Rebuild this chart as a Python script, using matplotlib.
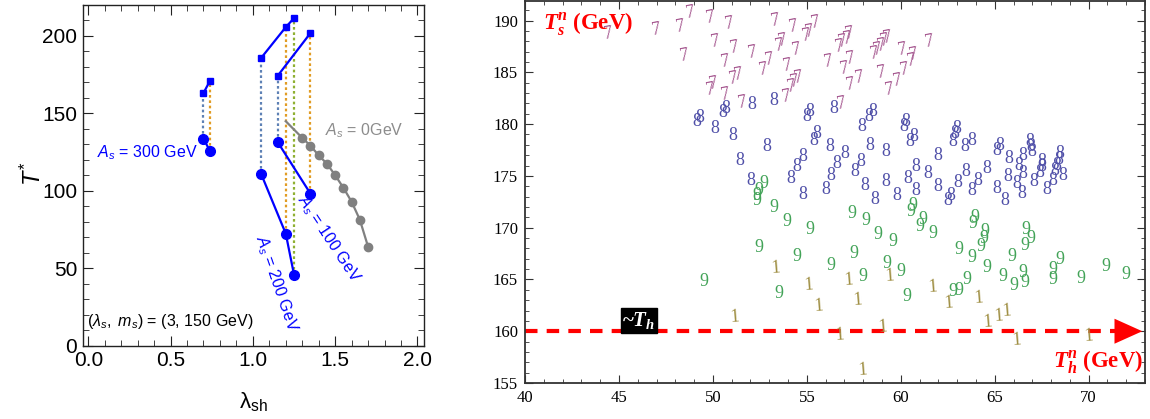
import matplotlib
matplotlib.use("Agg")
import matplotlib.pyplot as plt
from matplotlib.ticker import MultipleLocator

# ─────────────────────────────────────────────
# Data: left panel (T* vs lambda_sh)
# ─────────────────────────────────────────────

as300_x		= [0.70, 0.74]
as300_top	= [163.0, 171.0]
as300_bot	= [133.5, 125.5]

as200_x		= [1.05, 1.20, 1.25]
as200_top	= [185.6, 205.5, 211.3]
as200_bot	= [110.9, 72.3, 45.9]

as100_x		= [1.15, 1.35]
as100_top	= [174.0, 201.7]
as100_bot	= [131.5, 98.1]

as0_x		= [1.20, 1.30, 1.35, 1.40, 1.45, 1.50, 1.55, 1.60, 1.65, 1.70]
as0_y		= [144.8, 134.1, 129.0, 122.8, 117.4, 110.0, 101.9, 92.9, 81.3, 63.9]

# ─────────────────────────────────────────────
# Data: right panel (T_s^n vs T_h^n), digit markers
# ─────────────────────────────────────────────

seven_x = [44.43, 47.00, 48.28, 48.81, 49.88, 50.87, 48.51, 50.14, 51.17, 52.11, 50.68, 51.10,
	   51.35, 52.71, 49.88, 50.05, 50.69, 51.58, 53.33, 54.27, 55.48, 55.12, 54.98, 53.71,
	   53.56, 54.45, 53.00, 53.97, 54.57, 54.32, 54.18, 53.92, 56.13, 56.88, 56.76, 57.25,
	   57.15, 57.32, 57.02, 57.32, 57.82, 56.85, 58.62, 58.74, 58.97, 59.15, 59.29, 58.97,
	   60.09, 60.57, 60.66, 60.21, 59.80, 59.38, 61.54]
seven_y = [188.74, 189.12, 189.44, 190.72, 190.28, 189.70, 186.64, 187.93, 187.35, 186.90, 186.00, 184.40,
	   184.80, 185.27, 183.30, 183.90, 182.80, 182.10, 189.95, 189.44, 189.76, 188.90, 188.57, 188.09,
	   187.60, 187.13, 186.23, 185.60, 184.46, 184.07, 183.59, 182.62, 186.00, 187.93, 187.45, 188.74,
	   188.26, 186.30, 185.36, 183.75, 184.50, 182.00, 186.80, 187.19, 187.61, 188.02, 188.35, 184.94,
	   187.13, 186.16, 186.74, 185.20, 184.23, 183.27, 187.93]

eight_x = [49.13, 49.30, 50.11, 50.52, 50.69, 51.05, 52.06, 52.85, 51.44, 52.00, 53.24, 54.98,
	   55.16, 56.44, 55.37, 55.52, 56.22, 54.80, 57.02, 54.45, 54.13, 54.77, 56.61, 56.30,
	   56.03, 57.86, 57.55, 57.91, 58.35, 58.31, 58.53, 58.09, 58.62, 59.20, 59.20, 59.77,
	   60.16, 60.27, 60.48, 60.69, 60.39, 60.80, 60.80, 61.45, 61.98, 61.98, 62.78, 62.87,
	   62.96, 62.52, 62.64, 63.05, 63.40, 63.76, 63.46, 63.76, 64.11, 64.56, 65.09, 65.27,
	   65.12, 65.53, 65.76, 65.71, 66.15, 66.42, 66.29, 66.47, 66.50, 66.86, 66.90, 66.95,
	   67.07, 67.48, 67.53, 67.39, 67.78, 68.10, 68.19, 68.28, 68.42, 68.46, 68.60]
eight_y = [180.21, 180.64, 179.58, 181.08, 181.50, 178.93, 181.92, 177.80, 176.50, 174.56, 182.30, 180.69,
	   181.18, 181.50, 178.45, 179.09, 177.87, 176.90, 177.16, 175.87, 174.75, 173.24, 176.20, 175.07,
	   173.69, 176.35, 175.39, 179.80, 177.96, 180.69, 181.18, 174.10, 172.73, 177.32, 174.43, 173.14,
	   179.80, 180.21, 178.28, 178.83, 174.75, 175.87, 173.63, 175.24, 177.00, 173.94, 178.28, 179.09,
	   179.58, 172.66, 173.14, 174.33, 177.80, 178.45, 175.39, 173.56, 174.59, 175.72, 177.48, 177.96,
	   173.79, 172.66, 176.68, 174.91, 174.27, 173.31, 176.04, 177.00, 175.24, 178.28, 177.80, 177.32,
	   174.43, 176.35, 175.87, 175.29, 173.69, 174.59, 175.55, 176.04, 176.59, 177.16, 175.07]

nine_x = [52.71, 52.46, 52.35, 52.32, 52.46, 49.52, 53.24, 53.95, 55.16, 54.45, 53.53, 56.28,
	  57.38, 58.16, 57.52, 58.00, 58.79, 59.56, 59.24, 59.98, 60.34, 60.52, 60.62, 61.01,
	  61.18, 61.72, 62.78, 63.10, 63.09, 63.94, 63.85, 64.47, 64.41, 64.24, 63.81, 64.56,
	  63.53, 65.89, 66.68, 66.90, 66.63, 65.41, 66.01, 66.50, 66.63, 68.46, 68.10, 68.10,
	  69.61, 70.94, 72.00]
nine_y = [174.27, 173.63, 173.15, 172.60, 168.10, 164.78, 171.96, 170.57, 169.87, 167.19, 163.66, 166.30,
	  171.38, 170.73, 167.52, 165.33, 169.35, 168.64, 166.56, 165.75, 163.34, 171.53, 172.18, 170.15,
	  170.80, 169.45, 163.82, 163.98, 167.90, 171.00, 170.41, 169.60, 168.97, 168.16, 167.10, 166.17,
	  165.01, 167.26, 169.84, 168.97, 168.32, 165.27, 164.37, 165.65, 164.69, 166.94, 165.98, 165.01,
	  165.11, 166.23, 165.43]

one_x = [51.17, 53.35, 55.12, 55.65, 56.76, 57.25, 57.70, 57.98, 59.04, 59.41, 61.72, 62.57,
	 64.17, 64.64, 65.23, 65.66, 66.15, 70.02]
one_y = [161.35, 166.08, 164.46, 162.44, 159.64, 164.95, 163.02, 156.20, 160.39, 165.33, 164.24, 162.70,
	 163.18, 160.83, 161.48, 161.89, 159.16, 159.48]

TH_LINE = 160.0

# ─────────────────────────────────────────────
# Styles
# ─────────────────────────────────────────────

DOT_COLORS	= ["#5E81B5", "#E19C24", "#8FB032"]
SANS		= "Liberation Sans"
SERIF		= "Liberation Serif"

plt.rcParams["mathtext.fontset"]	= "custom"
plt.rcParams["mathtext.rm"]		= SANS
plt.rcParams["mathtext.it"]		= SANS + ":italic"
plt.rcParams["mathtext.bf"]		= SERIF + ":bold:italic"


def draw_group(ax, xs, top, bot):
	for i, x in enumerate(xs):
		ax.plot([x, x], [bot[i], top[i]], linestyle=(0, (1.2, 1.2)), linewidth=1.6,
			color=DOT_COLORS[i % 3], zorder=1)
	ax.plot(xs, top, color="#0000FF", linewidth=1.6, marker="s", markersize=4.5, zorder=3)
	ax.plot(xs, bot, color="#0000FF", linewidth=1.6, marker="o", markersize=7, zorder=3)


fig = plt.figure(figsize=(11.5, 4.19), dpi=100)

# ── left panel ───────────────────────────────
ax = fig.add_axes([0.0719, 0.175, 0.2968, 0.8138])
draw_group(ax, as300_x, as300_top, as300_bot)
draw_group(ax, as200_x, as200_top, as200_bot)
draw_group(ax, as100_x, as100_top, as100_bot)
ax.plot(as0_x, as0_y, color="#808080", linewidth=1.6, marker="o", markersize=6,
	markevery=list(range(1, len(as0_x))), zorder=2)

ax.set_xlim(-0.034, 2.04)
ax.set_ylim(0, 220)
ax.xaxis.set_major_locator(MultipleLocator(0.5))
ax.xaxis.set_minor_locator(MultipleLocator(0.1))
ax.yaxis.set_major_locator(MultipleLocator(50))
ax.yaxis.set_minor_locator(MultipleLocator(10))
ax.xaxis.set_major_formatter(lambda v, p: f"{v:.1f}")
ax.tick_params(which="both", direction="in", top=True, right=True, color="#222222")
ax.tick_params(which="major", length=7, labelsize=15, pad=4)
ax.tick_params(which="minor", length=4)
for lbl in ax.get_xticklabels() + ax.get_yticklabels():
	lbl.set_fontfamily(SANS)
for sp in ax.spines.values():
	sp.set_color("#222222")
	sp.set_linewidth(1.0)

ax.text(0.665, 124.5, r"$A_s$ = 300 GeV", color="#0000FF", fontsize=11.5, family=SANS,
	ha="right", va="center")
ax.text(1.44, 138.5, r"$A_s$ = 0GeV", color="#8C8C8C", fontsize=11.5, family=SANS,
	ha="left", va="center")
ax.text(1.463, 68.7, r"$A_s$ = 100 GeV", color="#0000FF", fontsize=11.5, family=SANS,
	ha="center", va="center", rotation=-56.5)
ax.text(1.141, 40.0, r"$A_s$ = 200 GeV", color="#0000FF", fontsize=11.5, family=SANS,
	ha="center", va="center", rotation=-71)
ax.text(-0.005, 15.5, r"$(\lambda_s,\ m_s)$ = (3, 150 GeV)", color="black", fontsize=11.5,
	family=SANS, ha="left", va="center")

fig.text(0.029, 0.585, r"$T^{*}$", fontsize=17, rotation=90, ha="center", va="center")
fig.text(0.220, 0.040, r"$\mathrm{\lambda_{sh}}$", fontsize=16, ha="center", va="center")

# ── right panel ──────────────────────────────
ax2 = fig.add_axes([0.4565, 0.0859, 0.5392, 0.912])

for xs, ys, digit, color, rot in [
	(seven_x, seven_y, "7", "#A3538D", 10),
	(eight_x, eight_y, "8", "#4F4FA8", 0),
	(nine_x,  nine_y,  "9", "#43A358", 0),
	(one_x,   one_y,   "1", "#A09045", 4),
]:
	for x, y in zip(xs, ys):
		ax2.text(x, y, digit, color=color, fontsize=13, family=SERIF,
			 ha="center", va="center", rotation=rot, zorder=3)

ax2.plot([40, 72.2], [TH_LINE, TH_LINE], color="red", linewidth=3, linestyle=(0, (3, 2.2)),
	 zorder=2)
ax2.annotate("", xy=(73.0, TH_LINE), xytext=(72.0, TH_LINE),
	     arrowprops=dict(arrowstyle="-|>,head_length=1.0,head_width=0.45", color="red",
			     lw=0, mutation_scale=20), annotation_clip=False, zorder=2)

ax2.text(46.07, 161.05, r"~$\mathbf{T_h}$", color="white", fontsize=15, family=SERIF,
	 fontweight="bold", ha="center", va="center", zorder=4,
	 bbox=dict(boxstyle="square,pad=0.08", facecolor="black", edgecolor="black"))
ax2.text(40.95, 189.7, r"$\mathbf{T}_\mathbf{s}^\mathbf{n}$ (GeV)", color="red", fontsize=16.5,
	 family=SERIF, fontweight="bold", ha="left", va="center")
ax2.text(72.9, 157.0, r"$\mathbf{T}_\mathbf{h}^\mathbf{n}$ (GeV)", color="red", fontsize=16.5,
	 family=SERIF, fontweight="bold", ha="right", va="center")

ax2.set_xlim(40, 73)
ax2.set_ylim(155, 191.9)
ax2.xaxis.set_major_locator(MultipleLocator(5))
ax2.xaxis.set_minor_locator(MultipleLocator(1))
ax2.yaxis.set_major_locator(MultipleLocator(5))
ax2.yaxis.set_minor_locator(MultipleLocator(1))
ax2.tick_params(which="both", direction="in", top=True, right=True, color="#333333")
ax2.tick_params(which="major", length=6, labelsize=12, pad=5)
ax2.tick_params(which="minor", length=3)
for lbl in ax2.get_xticklabels() + ax2.get_yticklabels():
	lbl.set_fontfamily(SERIF)
for sp in ax2.spines.values():
	sp.set_color("#333333")
	sp.set_linewidth(1.3)

plt.savefig("out.png", dpi=100)
plt.close()
